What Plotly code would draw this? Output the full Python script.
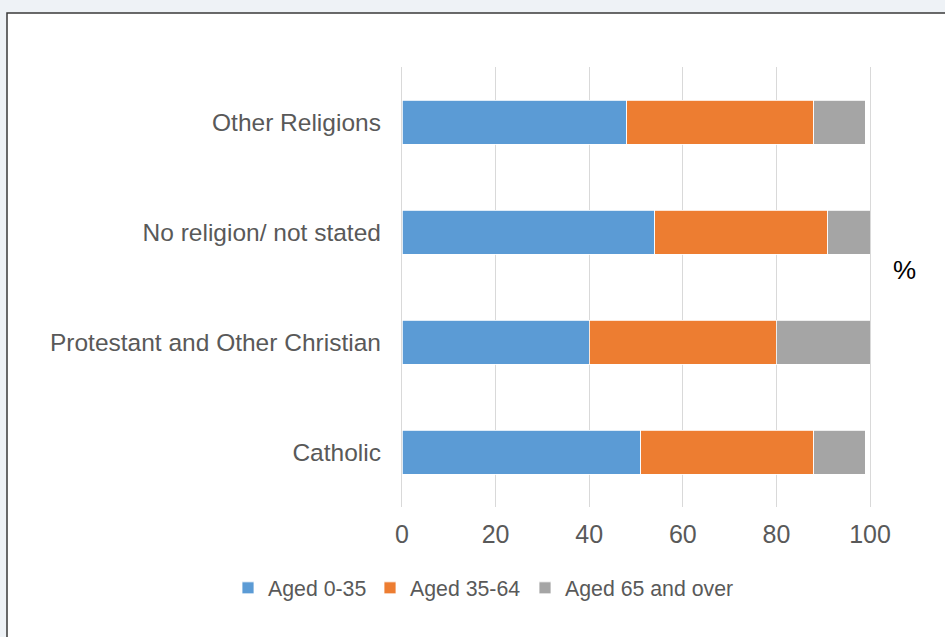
import plotly.graph_objects as go

categories = ["Catholic", "Protestant and Other Christian", "No religion/ not stated", "Other Religions"]
aged_0_35 = [51, 40, 54, 48]
aged_35_64 = [37, 40, 37, 40]
aged_65_over = [11, 20, 9, 11]
series_names = ["Aged 0-35", "Aged 35-64", "Aged 65 and over"]
colors = ["#5B9BD5", "#ED7D31", "#A5A5A5"]
x_ticks = [0, 20, 40, 60, 80, 100]

W, H = 945, 637
L, R, T, B = 402, 75, 67, 130
pw, ph = W - L - R, H - T - B

def px_x(p):
    return (p - L) / pw

def px_y(p):
    return (H - B - p) / ph

legend_ids = ["legend", "legend2", "legend3"]
legend_px = [228, 370, 525]

fig = go.Figure()
for name, vals, c, lg in zip(series_names, [aged_0_35, aged_35_64, aged_65_over], colors, legend_ids):
    fig.add_trace(go.Bar(
        y=categories, x=vals, name=name, orientation="h",
        marker=dict(color=c, line=dict(color="white", width=0.8)),
        width=0.4, legend=lg, showlegend=True,
    ))

legend_style = dict(orientation="h", xref="container", xanchor="left",
                    y=px_y(588), yanchor="middle",
                    font=dict(size=21.3, color="#595959"),
                    bgcolor="rgba(0,0,0,0)", itemwidth=30)

fig.update_layout(
    width=W, height=H,
    barmode="stack",
    showlegend=True,
    margin=dict(l=L, r=R, t=T, b=B, autoexpand=False),
    paper_bgcolor="#eef2f6",
    plot_bgcolor="white",
    font=dict(family="Liberation Sans, Arial, sans-serif", color="#595959", size=24),
    xaxis=dict(range=[0, 100], tickvals=x_ticks, showgrid=True, gridcolor="#d9d9d9",
               gridwidth=1.4, zeroline=False, showline=False, ticks="", fixedrange=True,
               ticklabelstandoff=10, tickfont=dict(size=25, color="#595959")),
    yaxis=dict(categoryorder="array", categoryarray=categories, showgrid=False,
               showline=True, mirror=True, linecolor="#d9d9d9", linewidth=1.4,
               ticks="", ticklabelstandoff=15, tickfont=dict(size=24.5, color="#595959")),
    legend=dict(legend_style, x=legend_px[0] / W),
    legend2=dict(legend_style, x=legend_px[1] / W),
    legend3=dict(legend_style, x=legend_px[2] / W),
    shapes=[
        dict(type="rect", xref="paper", yref="paper", layer="below",
             x0=px_x(7), x1=px_x(960), y0=px_y(13), y1=px_y(660),
             fillcolor="white", line=dict(color="#3a3a3a", width=1.5)),
    ],
    annotations=[
        dict(text="%", xref="paper", yref="paper", x=px_x(918), y=px_y(270),
             showarrow=False, font=dict(size=26, color="black")),
    ],
)

fig.write_html("out.html", config={"displayModeBar": False},
               post_script="document.body.style.margin='0px';")
